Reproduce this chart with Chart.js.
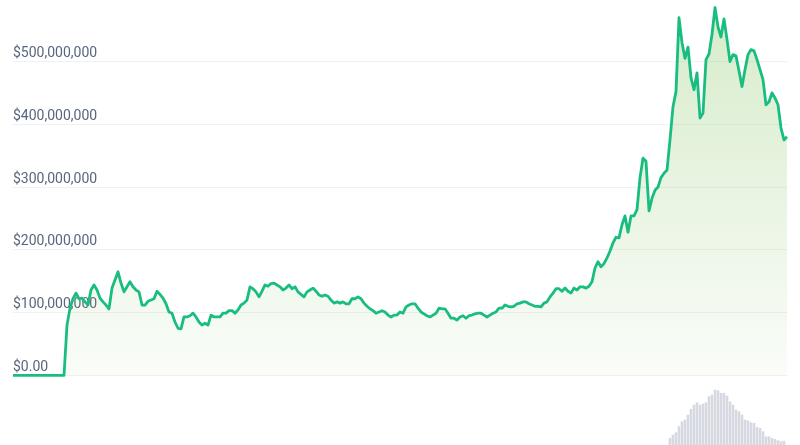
<!DOCTYPE html>
<html>
<head>
<meta charset="utf-8">
<script src="https://cdn.jsdelivr.net/npm/chart.js@4"></script>
<style>
  html, body { margin: 0; padding: 0; background: #ffffff; }
  #wrap { width: 800px; height: 445px; }
</style>
</head>
<body>
<div id="wrap"><canvas id="chart" width="800" height="445"></canvas></div>
<script>
// price in millions of USD, one value per day
const priceMillions = [
  0, 0, 0, 0, 0, 0, 0, 0, 0, 0, 0, 0, 0, 0, 0, 0, 0, 0,
  80, 107, 122, 131, 122, 123, 117, 112, 136, 144, 136, 123, 117, 112, 106, 139, 152, 165, 147, 133, 141, 149,
  141, 136, 133, 112, 112, 118, 120, 122, 134, 129, 123, 114, 101, 99, 85, 75, 74, 93, 93, 95,
  99, 93, 85, 80, 83, 80, 96, 93, 93, 93, 99, 99, 103, 103, 99, 104, 112, 115, 120, 141,
  138, 133, 125, 134, 144, 142, 146, 147, 144, 141, 136, 139, 144, 138, 141, 133, 129, 125, 133, 136,
  139, 134, 128, 126, 128, 126, 120, 115, 117, 115, 117, 114, 114, 122, 122, 125, 122, 115, 110, 106,
  103, 99, 101, 103, 101, 96, 93, 96, 96, 101, 99, 109, 112, 114, 114, 107, 101, 98, 95, 93,
  96, 99, 107, 106, 106, 99, 91, 91, 88, 93, 95, 91, 95, 96, 98, 99, 99, 96, 93, 96,
  99, 101, 107, 107, 112, 110, 109, 110, 114, 115, 117, 117, 114, 112, 110, 110, 109, 115, 117, 125,
  131, 138, 138, 134, 139, 134, 131, 139, 136, 141, 141, 139, 142, 149, 171, 181, 173, 178, 187, 198,
  211, 220, 219, 240, 254, 228, 254, 254, 264, 315, 346, 341, 262, 282, 295, 300, 315, 322, 327, 375,
  428, 452, 570, 530, 505, 523, 474, 455, 482, 410, 418, 503, 512, 543, 586, 555, 539, 568, 535, 500,
  511, 509, 485, 460, 487, 511, 519, 517, 503, 487, 471, 431, 436, 450, 442, 431, 394, 375, 380
];

// traded volume (millions of USD), only reported for the last days
const volumeStartIndex = 219;
const volumeMillions = [
  6.7, 10, 12.3, 18.3, 23.3, 25, 30, 35.7, 40, 42.3, 40, 41, 42.3, 48.3, 50, 55, 54.3, 51.7, 51.7, 49,
  43.3, 40, 35, 33.3, 30, 25, 24.3, 22.3, 21.7, 17.7, 16.7, 13.3, 8.3, 8.3, 6.7, 5.7, 4.3, 3.3, 4
];

const tickValuesMillions = [0, 100, 200, 300, 400, 500];
const tickLabels = ['$0.00', '$100,000,000', '$200,000,000', '$300,000,000', '$400,000,000', '$500,000,000'];

const days = priceMillions.map((_, i) => i);
const volumeSeries = days.map(i => {
  const k = i - volumeStartIndex;
  return k >= 0 && k < volumeMillions.length ? volumeMillions[k] : null;
});

const ctx = document.getElementById('chart').getContext('2d');

new Chart(ctx, {
  data: {
    labels: days,
    datasets: [
      {
        type: 'line',
        data: priceMillions.map(v => v * 1e6),
        yAxisID: 'y',
        borderColor: '#19bd80',
        borderWidth: 2.8,
        borderJoinStyle: 'round',
        pointRadius: 0,
        tension: 0,
        fill: 'origin',
        clip: false,
        backgroundColor: (c) => {
          const area = c.chart.chartArea;
          if (!area) return 'rgba(120,190,80,0.2)';
          const yScale = c.chart.scales.y;
          const g = c.chart.ctx.createLinearGradient(0, area.top, 0, yScale.getPixelForValue(0));
          g.addColorStop(0, 'rgba(120,190,80,0.30)');
          g.addColorStop(1, 'rgba(120,190,80,0.04)');
          return g;
        },
        order: 1
      },
      {
        type: 'bar',
        data: volumeSeries,
        yAxisID: 'vol',
        backgroundColor: '#d6d9e1',
        barThickness: 2,
        order: 2
      }
    ]
  },
  options: {
    responsive: false,
    animation: false,
    layout: { padding: { left: 13, right: 13, top: 0, bottom: 0 } },
    plugins: {
      legend: { display: false },
      tooltip: { enabled: false }
    },
    scales: {
      x: {
        display: false,
        offset: false
      },
      y: {
        min: -111e6,
        max: 598e6,
        border: { display: false },
        grid: { color: '#eff1f4', lineWidth: 1, drawTicks: false },
        afterBuildTicks: (axis) => {
          axis.ticks = tickValuesMillions.map(v => ({ value: v * 1e6 }));
        },
        afterFit: (axis) => {
          // labels sit inside the plot, so no extra room above/below
          axis.paddingTop = 0;
          axis.paddingBottom = 0;
        },
        ticks: {
          mirror: true,
          padding: 0,
          labelOffset: -8,
          color: '#58667e',
          font: { family: 'Roboto', size: 14 },
          callback: (value) => tickLabels[tickValuesMillions.indexOf(Math.round(value / 1e6))]
        }
      },
      vol: {
        display: false,
        min: 0,
        max: 445
      }
    }
  }
});
</script>
</body>
</html>
